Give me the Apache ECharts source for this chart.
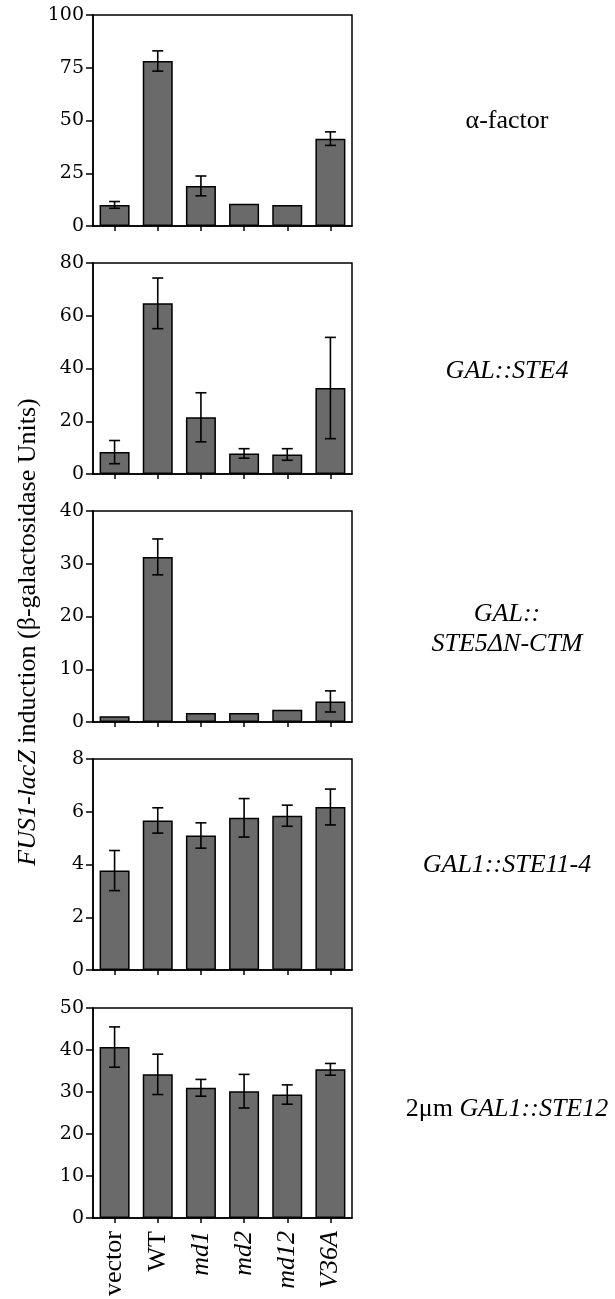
<!DOCTYPE html>
<html>
<head>
<meta charset="utf-8">
<script src="https://cdn.jsdelivr.net/npm/echarts@6/dist/echarts.min.js"></script>
<style>
html,body{margin:0;padding:0;background:#fff;}
#chart{width:615px;height:1299px;}
</style>
</head>
<body>
<div id="chart"></div>
<script>
// ---- data ----
const categories = ['vector', 'WT', 'md1', 'md2', 'md12', 'V36A'];
const italicCats = [false, false, true, true, true, true];

const alphaMean = [10.0, 78.2, 19.0, 10.5, 10.0, 41.4];
const alphaErr  = [1.6, 4.8, 4.7, null, null, 3.2];

const ste4Mean = [8.3, 64.7, 21.5, 7.8, 7.4, 32.6];
const ste4Err  = [4.4, 9.6, 9.3, 1.8, 2.2, 19.2];

const ste5Mean = [1.1, 31.3, 1.7, 1.7, 2.3, 3.9];
const ste5Err  = [null, 3.4, null, null, null, 2.0];

const ste11Mean = [3.77, 5.67, 5.10, 5.77, 5.85, 6.18];
const ste11Err  = [0.76, 0.48, 0.48, 0.73, 0.40, 0.68];

const ste12Mean = [40.7, 34.2, 31.0, 30.2, 29.4, 35.4];
const ste12Err  = [4.8, 4.8, 2.0, 4.0, 2.3, 1.4];

const yMaxes = [100, 80, 40, 8, 50];
const yIntervals = [25, 20, 10, 2, 10];

const panelLabels = [
  '\u03b1-factor',
  '{i|GAL::STE4}',
  '{i|GAL::}\n{i|STE5\u0394N-CTM}',
  '{i|GAL1::STE11-4}',
  '2\u03bcm {i|GAL1::STE12}'
];
const yTitle = '{i|FUS1-lacZ} induction (\u03b2-galactosidase Units)';

// ---- layout ----
const means = [alphaMean, ste4Mean, ste5Mean, ste11Mean, ste12Mean];
const errs = [alphaErr, ste4Err, ste5Err, ste11Err, ste12Err];
const gridTops = [15, 263, 511, 759, 1008];
const gridH = 211;
const gridLeft = 93;
const gridW = 259;
const labelY = [121, 371, 629, 865, 1109];
const labelX = 507;

const serif = 'Liberation Serif';
const tickFont = 'DejaVu Serif';

const grids = [], xAxes = [], yAxes = [], series = [];
for (let p = 0; p < 5; p++) {
  grids.push({left: gridLeft, top: gridTops[p], width: gridW, height: gridH,
    show: true, borderColor: '#000', borderWidth: 1.5, backgroundColor: 'transparent'});
  const last = p === 4;
  xAxes.push({
    type: 'category', gridIndex: p, data: categories,
    boundaryGap: true,
    axisLine: {show: true, lineStyle: {color: '#000', width: 1.5}},
    axisTick: {show: true, alignWithLabel: true, length: 5, lineStyle: {color: '#000', width: 1.5}},
    axisLabel: last ? {
      show: true, rotate: 90, margin: 13, interval: 0,
      fontFamily: serif, fontSize: 26, color: '#000',
      formatter: function (v, i) { return italicCats[i] ? '{i|' + v + '}' : v; },
      rich: {i: {fontFamily: serif, fontSize: 26, fontStyle: 'italic', color: '#000'}}
    } : {show: false},
    splitLine: {show: false}
  });
  yAxes.push({
    type: 'value', gridIndex: p, min: 0, max: yMaxes[p], interval: yIntervals[p],
    axisLine: {show: true, lineStyle: {color: '#000', width: 1.5}},
    axisTick: {show: true, length: 7, lineStyle: {color: '#000', width: 1.5}},
    axisLabel: {margin: 9, fontFamily: tickFont, fontSize: 19, color: '#000'},
    splitLine: {show: false}
  });
  series.push({
    type: 'bar', xAxisIndex: p, yAxisIndex: p, data: means[p], barWidth: 30,
    itemStyle: {color: '#6a6a6a', borderColor: '#000', borderWidth: 1.5},
    z: 2, silent: true, animation: false
  });
  const ed = [];
  for (let i = 0; i < categories.length; i++) {
    if (errs[p][i] != null) ed.push([i, means[p][i], errs[p][i]]);
  }
  series.push({
    type: 'custom', xAxisIndex: p, yAxisIndex: p, data: ed, z: 5, silent: true, animation: false,
    renderItem: function (params, api) {
      const x = api.value(0), m = api.value(1), e = api.value(2);
      const t = api.coord([x, m + e]);
      const b = api.coord([x, m - e]);
      const hw = 5.5;
      const st = {stroke: '#000', lineWidth: 1.6};
      return {type: 'group', children: [
        {type: 'line', shape: {x1: t[0], y1: t[1], x2: b[0], y2: b[1]}, style: st},
        {type: 'line', shape: {x1: t[0] - hw, y1: t[1], x2: t[0] + hw, y2: t[1]}, style: st},
        {type: 'line', shape: {x1: b[0] - hw, y1: b[1], x2: b[0] + hw, y2: b[1]}, style: st}
      ]};
    }
  });
}

const graphics = [];
for (let p = 0; p < 5; p++) {
  graphics.push({
    type: 'text', left: null, x: labelX, y: labelY[p], silent: true,
    style: {
      text: panelLabels[p], fill: '#000', fontFamily: serif, fontSize: 26,
      align: 'center', verticalAlign: 'middle', lineHeight: 30,
      rich: {i: {fontFamily: serif, fontSize: 26, fontStyle: 'italic', fill: '#000', lineHeight: 30}}
    }
  });
}
graphics.push({
  type: 'text', x: 28, y: 632, rotation: Math.PI / 2, silent: true,
  style: {
    text: yTitle, fill: '#000', fontFamily: serif, fontSize: 26,
    align: 'center', verticalAlign: 'middle',
    rich: {i: {fontFamily: serif, fontSize: 26, fontStyle: 'italic', fill: '#000'}}
  }
});

const chart = echarts.init(document.getElementById('chart'), null, {renderer: 'canvas'});
chart.setOption({
  backgroundColor: '#fff',
  animation: false,
  grid: grids,
  xAxis: xAxes,
  yAxis: yAxes,
  series: series,
  graphic: graphics
});
</script>
</body>
</html>
